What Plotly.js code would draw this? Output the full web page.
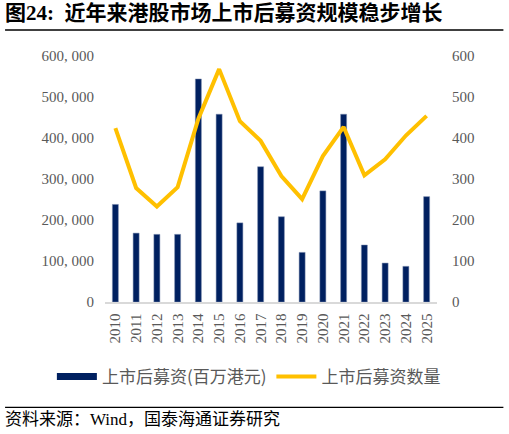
<!DOCTYPE html>
<html>
<head>
<meta charset="utf-8">
<script src="https://cdn.plot.ly/plotly-3.0.1.min.js"></script>
<style>
  body { margin: 0; background: #fff; }
  #chart { width: 509px; height: 434px; }
</style>
</head>
<body>
<div id="chart"></div>
<script>
/*** DATA ***/
// years on the category axis
var years = ['2010', '2011', '2012', '2013', '2014', '2015', '2016', '2017',
             '2018', '2019', '2020', '2021', '2022', '2023', '2024', '2025'];

// post-IPO fundraising amount, HKD million (left axis)
var fund_amount = [238000, 168000, 165000, 165000, 544000, 458000, 193000, 330000,
                   208000, 121000, 271000, 458000, 139000, 95000, 87000, 257000];

// number of post-IPO fundraisings (right axis)
var fund_count = [424, 278, 233, 280, 447, 568, 441, 393,
                  307, 251, 356, 427, 309, 348, 406, 454];

// tick labels
var left_ticks = [0, 100000, 200000, 300000, 400000, 500000, 600000];
var left_tick_text = ['0', '100, 000', '200, 000', '300, 000', '400, 000', '500, 000', '600, 000'];
var right_ticks = [0, 100, 200, 300, 400, 500, 600];

var bar_name = '上市后募资(百万港元)';
var line_name = '上市后募资数量';

var num_font = 'Liberation Serif, Times New Roman, serif';
var cjk_font = 'Liberation Serif, Noto Sans CJK SC, serif';

/*** TRACES ***/
var bar_trace = {
    x: years,
    y: fund_amount,
    name: bar_name,
    type: 'bar',
    showlegend: false,
    marker: {
        color: '#002060',
        line: { color: '#7f8fb0', width: 0.5 }
    },
    hoverinfo: 'skip'
};

// legend-only entry so the bar key shows as a wide flat block like the original
var bar_key = {
    x: [null],
    y: [null],
    name: bar_name,
    type: 'scatter',
    mode: 'lines',
    line: { color: '#002060', width: 7 },
    hoverinfo: 'skip'
};

var line_trace = {
    x: years,
    y: fund_count,
    name: line_name,
    type: 'scatter',
    mode: 'lines',
    yaxis: 'y2',
    line: { color: '#FFC000', width: 4 },
    hoverinfo: 'skip'
};

/*** LAYOUT ***/
var layout = {
    width: 509,
    height: 434,
    margin: { l: 105, r: 72, t: 56, b: 132 },
    paper_bgcolor: '#ffffff',
    plot_bgcolor: '#ffffff',
    showlegend: true,
    bargap: 0.71,
    font: { family: cjk_font, color: '#595959' },
    xaxis: {
        type: 'category',
        tickangle: -90,
        tickfont: { family: num_font, size: 15, color: '#595959' },
        showgrid: false,
        showline: true,
        linecolor: '#d9d9d9',
        linewidth: 1.5,
        ticks: '',
        ticklabelstandoff: 4
    },
    yaxis: {
        range: [0, 600000],
        tickvals: left_ticks,
        ticktext: left_tick_text,
        tickfont: { family: num_font, size: 15, color: '#595959' },
        showgrid: false,
        zeroline: false,
        ticks: '',
        ticklabelstandoff: 10
    },
    yaxis2: {
        range: [0, 600],
        overlaying: 'y',
        side: 'right',
        tickvals: right_ticks,
        tickfont: { family: num_font, size: 15, color: '#595959' },
        showgrid: false,
        zeroline: false,
        ticks: '',
        ticklabelstandoff: 14
    },
    legend: {
        orientation: 'h',
        x: -0.16,
        xanchor: 'left',
        y: -0.305,
        yanchor: 'middle',
        font: { family: 'Noto Sans CJK SC, sans-serif', size: 17, color: '#595959' },
        traceorder: 'normal',
        itemwidth: 40
    },
    annotations: [
        {
            // chart title
            text: '<b>图24:  近年来港股市场上市后募资规模稳步增长</b>',
            xref: 'paper', yref: 'paper',
            x: -0.306, xanchor: 'left',
            y: 1.175, yanchor: 'middle',
            showarrow: false,
            font: { family: 'Liberation Serif, Noto Sans CJK SC, serif', size: 21, color: '#000000' }
        },
        {
            // source note
            text: '资料来源：Wind，国泰海通证券研究',
            xref: 'paper', yref: 'paper',
            x: -0.306, xanchor: 'left',
            y: -0.477, yanchor: 'middle',
            showarrow: false,
            font: { family: 'Liberation Serif, Noto Sans CJK SC, serif', size: 17, color: '#000000' }
        }
    ],
    shapes: [
        // rule under the title
        { type: 'line', xref: 'paper', yref: 'paper', x0: -0.301, x1: 1.2, y0: 1.106, y1: 1.106,
          line: { color: '#000000', width: 1.5 } },
        // rule above the source
        { type: 'line', xref: 'paper', yref: 'paper', x0: -0.301, x1: 1.2, y0: -0.428, y1: -0.428,
          line: { color: '#000000', width: 1.2 } }
    ]
};

Plotly.newPlot('chart', [bar_trace, bar_key, line_trace], layout, { displayModeBar: false, staticPlot: true });
</script>
</body>
</html>
